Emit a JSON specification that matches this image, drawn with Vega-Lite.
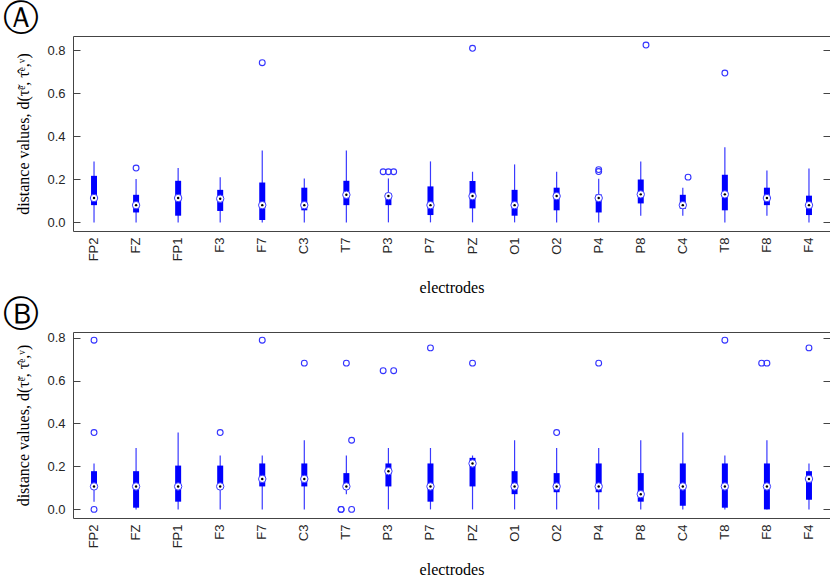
{
  "$schema": "https://vega.github.io/schema/vega-lite/v6.json",
  "padding": {"left": 2, "top": 0, "right": 0, "bottom": 0},
  "background": "white",
  "spacing": -1,
  "datasets": {
    "boxes": [
      {"panel":"A","electrode":"FP2","lo":0,"q1":0.080,"med":0.113,"q3":0.216,"hi":0.283},
      {"panel":"A","electrode":"FZ","lo":0,"q1":0.046,"med":0.080,"q3":0.128,"hi":0.201},
      {"panel":"A","electrode":"FP1","lo":0,"q1":0.031,"med":0.113,"q3":0.193,"hi":0.252},
      {"panel":"A","electrode":"F3","lo":0,"q1":0.053,"med":0.110,"q3":0.151,"hi":0.210},
      {"panel":"A","electrode":"F7","lo":0,"q1":0.011,"med":0.080,"q3":0.185,"hi":0.334},
      {"panel":"A","electrode":"C3","lo":0,"q1":0.056,"med":0.080,"q3":0.161,"hi":0.204},
      {"panel":"A","electrode":"T7","lo":0,"q1":0.080,"med":0.128,"q3":0.193,"hi":0.334},
      {"panel":"A","electrode":"P3","lo":0,"q1":0.080,"med":0.122,"q3":0.135,"hi":0.204},
      {"panel":"A","electrode":"P7","lo":0,"q1":0.034,"med":0.080,"q3":0.167,"hi":0.283},
      {"panel":"A","electrode":"PZ","lo":0,"q1":0.065,"med":0.122,"q3":0.192,"hi":0.235},
      {"panel":"A","electrode":"O1","lo":0,"q1":0.031,"med":0.080,"q3":0.151,"hi":0.269},
      {"panel":"A","electrode":"O2","lo":0,"q1":0.056,"med":0.122,"q3":0.161,"hi":0.235},
      {"panel":"A","electrode":"P4","lo":0,"q1":0.046,"med":0.113,"q3":0.130,"hi":0.202},
      {"panel":"A","electrode":"P8","lo":0.031,"q1":0.088,"med":0.130,"q3":0.199,"hi":0.283},
      {"panel":"A","electrode":"C4","lo":0.031,"q1":0.062,"med":0.080,"q3":0.128,"hi":0.161},
      {"panel":"A","electrode":"T8","lo":0,"q1":0.056,"med":0.130,"q3":0.221,"hi":0.349},
      {"panel":"A","electrode":"F8","lo":0.031,"q1":0.080,"med":0.113,"q3":0.161,"hi":0.241},
      {"panel":"A","electrode":"F4","lo":0,"q1":0.034,"med":0.080,"q3":0.124,"hi":0.250},
      {"panel":"B","electrode":"FP2","lo":0.036,"q1":0.100,"med":0.107,"q3":0.178,"hi":0.214},
      {"panel":"B","electrode":"FZ","lo":0,"q1":0.008,"med":0.107,"q3":0.178,"hi":0.286},
      {"panel":"B","electrode":"FP1","lo":0,"q1":0.036,"med":0.107,"q3":0.204,"hi":0.358},
      {"panel":"B","electrode":"F3","lo":0,"q1":0.100,"med":0.107,"q3":0.204,"hi":0.251},
      {"panel":"B","electrode":"F7","lo":0,"q1":0.107,"med":0.142,"q3":0.214,"hi":0.251},
      {"panel":"B","electrode":"C3","lo":0,"q1":0.107,"med":0.142,"q3":0.214,"hi":0.322},
      {"panel":"B","electrode":"T7","lo":0.071,"q1":0.100,"med":0.107,"q3":0.169,"hi":0.251},
      {"panel":"B","electrode":"P3","lo":0,"q1":0.107,"med":0.178,"q3":0.214,"hi":0.286},
      {"panel":"B","electrode":"P7","lo":0,"q1":0.036,"med":0.107,"q3":0.214,"hi":0.286},
      {"panel":"B","electrode":"PZ","lo":0,"q1":0.107,"med":0.214,"q3":0.240,"hi":0.251},
      {"panel":"B","electrode":"O1","lo":0,"q1":0.071,"med":0.107,"q3":0.178,"hi":0.322},
      {"panel":"B","electrode":"O2","lo":0,"q1":0.080,"med":0.107,"q3":0.169,"hi":0.286},
      {"panel":"B","electrode":"P4","lo":0,"q1":0.080,"med":0.107,"q3":0.214,"hi":0.286},
      {"panel":"B","electrode":"P8","lo":0,"q1":0.036,"med":0.071,"q3":0.169,"hi":0.322},
      {"panel":"B","electrode":"C4","lo":0,"q1":0.017,"med":0.107,"q3":0.214,"hi":0.358},
      {"panel":"B","electrode":"T8","lo":0,"q1":0.008,"med":0.107,"q3":0.214,"hi":0.251},
      {"panel":"B","electrode":"F8","lo":0,"q1":0.000,"med":0.107,"q3":0.214,"hi":0.322},
      {"panel":"B","electrode":"F4","lo":0,"q1":0.045,"med":0.142,"q3":0.178,"hi":0.214}
    ],
    "outliers": [
      {"panel":"A","electrode":"FZ","value":0.252,"k":"b"},
      {"panel":"A","electrode":"F7","value":0.741,"k":"b"},
      {"panel":"A","electrode":"P3","value":0.235,"k":"a"},
      {"panel":"A","electrode":"P3","value":0.235,"k":"b"},
      {"panel":"A","electrode":"P3","value":0.235,"k":"c"},
      {"panel":"A","electrode":"PZ","value":0.808,"k":"b"},
      {"panel":"A","electrode":"P4","value":0.245,"k":"b"},
      {"panel":"A","electrode":"P4","value":0.236,"k":"b"},
      {"panel":"A","electrode":"P8","value":0.823,"k":"c"},
      {"panel":"A","electrode":"C4","value":0.210,"k":"c"},
      {"panel":"A","electrode":"T8","value":0.693,"k":"b"},
      {"panel":"B","electrode":"FP2","value":0.788,"k":"b"},
      {"panel":"B","electrode":"FP2","value":0.358,"k":"b"},
      {"panel":"B","electrode":"FP2","value":0.0,"k":"b"},
      {"panel":"B","electrode":"F3","value":0.358,"k":"b"},
      {"panel":"B","electrode":"F7","value":0.788,"k":"b"},
      {"panel":"B","electrode":"C3","value":0.681,"k":"b"},
      {"panel":"B","electrode":"T7","value":0.681,"k":"b"},
      {"panel":"B","electrode":"T7","value":0.322,"k":"c"},
      {"panel":"B","electrode":"T7","value":0.0,"k":"a"},
      {"panel":"B","electrode":"T7","value":0.0,"k":"a"},
      {"panel":"B","electrode":"T7","value":0.0,"k":"c"},
      {"panel":"B","electrode":"P3","value":0.646,"k":"a"},
      {"panel":"B","electrode":"P3","value":0.646,"k":"c"},
      {"panel":"B","electrode":"P7","value":0.752,"k":"b"},
      {"panel":"B","electrode":"PZ","value":0.681,"k":"b"},
      {"panel":"B","electrode":"O2","value":0.358,"k":"b"},
      {"panel":"B","electrode":"P4","value":0.681,"k":"b"},
      {"panel":"B","electrode":"T8","value":0.788,"k":"b"},
      {"panel":"B","electrode":"F8","value":0.681,"k":"a"},
      {"panel":"B","electrode":"F8","value":0.681,"k":"b"},
      {"panel":"B","electrode":"F4","value":0.752,"k":"b"}
    ]
  },
  "config": {
    "view": {"stroke": "#444444", "strokeWidth": 1},
    "axis": {"labelFont": "Liberation Sans", "labelFontSize": 13, "labelColor": "#262626", "titleFont": "Liberation Serif", "titleFontSize": 16, "titleFontWeight": "normal", "titleColor": "#000000", "grid": false, "domain": false},
    "title": {"font": "DejaVu Sans", "fontSize": 36, "fontWeight": "normal", "color": "#000000", "anchor": "start", "frame": "group"}
  },
  "vconcat": [
    {
      "width": 757, "height": 195,
      "title": {"text": "Ⓐ", "offset": -1, "dx": -70, "dy": 1},
      "encoding": {
        "x": {"field": "electrode", "type": "nominal",
          "scale": {"domain": ["FP2","FZ","FP1","F3","F7","C3","T7","P3","P7","PZ","O1","O2","P4","P8","C4","T8","F8","F4"], "paddingInner": 0.75, "paddingOuter": 0.375},
          "axis": {"title": "electrodes", "labelAngle": 270, "ticks": false, "labelPadding": 6, "titlePadding": 19}}
      },
      "layer": [
        {"data": {"name": "boxes"}, "transform": [{"filter": "datum.panel === 'A'"}],
         "mark": {"type": "rule", "color": "#3a3aff", "strokeWidth": 1.2},
         "encoding": {"y": {"field": "lo", "type": "quantitative", "scale": {"domain": [-0.04, 0.865], "nice": false, "zero": false},
            "axis": {"orient": "left", "values": [0, 0.2, 0.4, 0.6, 0.8], "tickSize": -7, "tickColor": "#444444", "labelPadding": 15, "title": "distance values, d(τ̃ᵉ, τ̂ᵉ,ᵛ)", "titlePadding": 15}},
            "y2": {"field": "hi"}}},
        {"data": {"name": "boxes"}, "transform": [{"filter": "datum.panel === 'A'"}],
         "mark": {"type": "bar", "color": "#0000ff", "size": 6},
         "encoding": {"y": {"field": "q1", "type": "quantitative", "scale": {"domain": [-0.04, 0.865], "nice": false, "zero": false},
            "axis": {"orient": "right", "values": [0, 0.2, 0.4, 0.6, 0.8], "tickSize": -7, "tickColor": "#444444", "labels": false, "title": null}},
            "y2": {"field": "q3"}}},
        {"data": {"name": "boxes"}, "transform": [{"filter": "datum.panel === 'A'"}],
         "mark": {"type": "point", "shape": "circle", "filled": true, "fill": "#ffffff", "stroke": "#3a3aff", "strokeWidth": 1, "size": 55, "opacity": 1},
         "encoding": {"y": {"field": "med", "type": "quantitative", "scale": {"domain": [-0.04, 0.865], "nice": false, "zero": false}, "axis": null}}},
        {"data": {"name": "boxes"}, "transform": [{"filter": "datum.panel === 'A'"}],
         "mark": {"type": "point", "shape": "circle", "filled": true, "color": "#000000", "size": 6, "opacity": 1},
         "encoding": {"y": {"field": "med", "type": "quantitative", "scale": {"domain": [-0.04, 0.865], "nice": false, "zero": false}, "axis": null}}},
        {"data": {"name": "outliers"}, "transform": [{"filter": "datum.panel === 'A'"}],
         "mark": {"type": "point", "shape": "circle", "filled": false, "color": "#3333ff", "strokeWidth": 1.1, "size": 34, "opacity": 1},
         "encoding": {"y": {"field": "value", "type": "quantitative", "scale": {"domain": [-0.04, 0.865], "nice": false, "zero": false}, "axis": null},
            "xOffset": {"field": "k", "type": "nominal", "scale": {"domain": ["a","b","c"], "paddingInner": 0, "paddingOuter": 0}}}}
      ],
      "resolve": {"axis": {"y": "independent"}}
    },
    {
      "width": 757, "height": 186,
      "title": {"text": "Ⓑ", "offset": -1, "dx": -70, "dy": 1},
      "encoding": {
        "x": {"field": "electrode", "type": "nominal",
          "scale": {"domain": ["FP2","FZ","FP1","F3","F7","C3","T7","P3","P7","PZ","O1","O2","P4","P8","C4","T8","F8","F4"], "paddingInner": 0.75, "paddingOuter": 0.375},
          "axis": {"title": "electrodes", "labelAngle": 270, "ticks": false, "labelPadding": 6, "titlePadding": 14}}
      },
      "layer": [
        {"data": {"name": "boxes"}, "transform": [{"filter": "datum.panel === 'B'"}],
         "mark": {"type": "rule", "color": "#3a3aff", "strokeWidth": 1.2},
         "encoding": {"y": {"field": "lo", "type": "quantitative", "scale": {"domain": [-0.04, 0.826], "nice": false, "zero": false},
            "axis": {"orient": "left", "values": [0, 0.2, 0.4, 0.6, 0.8], "tickSize": -7, "tickColor": "#444444", "labelPadding": 15, "title": "distance values, d(τ̃ᵉ, τ̂ᵉ,ᵛ)", "titlePadding": 15}},
            "y2": {"field": "hi"}}},
        {"data": {"name": "boxes"}, "transform": [{"filter": "datum.panel === 'B'"}],
         "mark": {"type": "bar", "color": "#0000ff", "size": 6},
         "encoding": {"y": {"field": "q1", "type": "quantitative", "scale": {"domain": [-0.04, 0.826], "nice": false, "zero": false},
            "axis": {"orient": "right", "values": [0, 0.2, 0.4, 0.6, 0.8], "tickSize": -7, "tickColor": "#444444", "labels": false, "title": null}},
            "y2": {"field": "q3"}}},
        {"data": {"name": "boxes"}, "transform": [{"filter": "datum.panel === 'B'"}],
         "mark": {"type": "point", "shape": "circle", "filled": true, "fill": "#ffffff", "stroke": "#3a3aff", "strokeWidth": 1, "size": 55, "opacity": 1},
         "encoding": {"y": {"field": "med", "type": "quantitative", "scale": {"domain": [-0.04, 0.826], "nice": false, "zero": false}, "axis": null}}},
        {"data": {"name": "boxes"}, "transform": [{"filter": "datum.panel === 'B'"}],
         "mark": {"type": "point", "shape": "circle", "filled": true, "color": "#000000", "size": 6, "opacity": 1},
         "encoding": {"y": {"field": "med", "type": "quantitative", "scale": {"domain": [-0.04, 0.826], "nice": false, "zero": false}, "axis": null}}},
        {"data": {"name": "outliers"}, "transform": [{"filter": "datum.panel === 'B'"}],
         "mark": {"type": "point", "shape": "circle", "filled": false, "color": "#3333ff", "strokeWidth": 1.1, "size": 34, "opacity": 1},
         "encoding": {"y": {"field": "value", "type": "quantitative", "scale": {"domain": [-0.04, 0.826], "nice": false, "zero": false}, "axis": null},
            "xOffset": {"field": "k", "type": "nominal", "scale": {"domain": ["a","b","c"], "paddingInner": 0, "paddingOuter": 0}}}}
      ],
      "resolve": {"axis": {"y": "independent"}}
    }
  ]
}
